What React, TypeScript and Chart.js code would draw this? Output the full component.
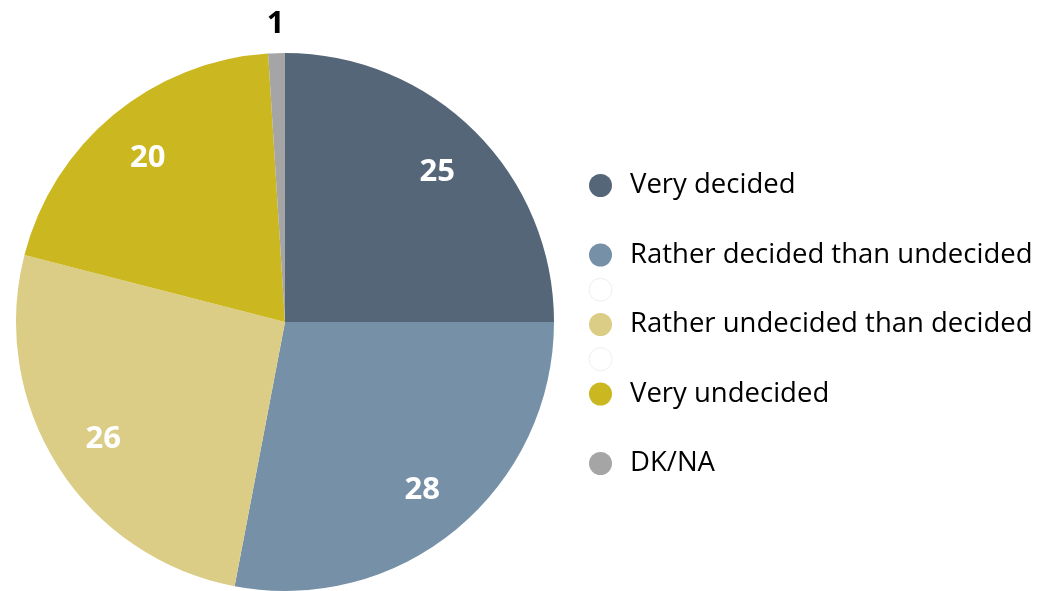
import React, { useEffect, useRef } from "react";
import { Chart, registerables } from "chart.js";

Chart.register(...registerables);

const categories = [
  "Very decided",
  "",
  "Rather decided than undecided",
  "",
  "Rather undecided than decided",
  "",
  "Very undecided",
  "",
  "DK/NA",
];
const values = [25, 0, 28, 0, 26, 0, 20, 0, 1];
const sliceColors = [
  "#546677",
  "rgba(0,0,0,0)",
  "#7691a7",
  "#ffffff",
  "#dbcd86",
  "#ffffff",
  "#cbb71f",
  "rgba(0,0,0,0)",
  "#a5a5a5",
];
const markerBorders = [
  "rgba(0,0,0,0)",
  "rgba(0,0,0,0)",
  "rgba(0,0,0,0)",
  "#eeeeee",
  "rgba(0,0,0,0)",
  "#eeeeee",
  "rgba(0,0,0,0)",
  "rgba(0,0,0,0)",
  "rgba(0,0,0,0)",
];

const FONT = "'Open Sans', 'Noto Sans', sans-serif";

const labelPlugin = {
  id: "sliceLabels",
  afterDatasetsDraw(chart: any) {
    const ctx = chart.ctx;
    const meta = chart.getDatasetMeta(0);
    const data = chart.data.datasets[0].data as number[];
    ctx.save();
    const size = 31;
    ctx.font = `bold ${size}px ${FONT}`;
    ctx.textAlign = "center";
    ctx.textBaseline = "alphabetic";
    meta.data.forEach((arc: any, i: number) => {
      const v = data[i];
      if (!v) return;
      const p = arc.getProps(["x", "y", "startAngle", "endAngle", "outerRadius"], true);
      const mid = (p.startAngle + p.endAngle) / 2;
      const small = v < 3;
      const r = small ? p.outerRadius + 31 : p.outerRadius * 0.8;
      const x = p.x + Math.cos(mid) * r;
      const y = p.y + Math.sin(mid) * r;
      ctx.fillStyle = small ? "#000000" : "#ffffff";
      ctx.fillText(String(v), x, y + size * 0.36);
    });
    ctx.restore();
  },
};

const legendPlugin = {
  id: "sideLegend",
  afterDraw(chart: any) {
    const ctx = chart.ctx;
    const labels = chart.data.labels as string[];
    const ds = chart.data.datasets[0];
    const left = chart.chartArea.right + 34;
    const firstBaseline = 193;
    const step = 34.75;
    ctx.save();
    ctx.font = `27.5px ${FONT}`;
    ctx.textBaseline = "alphabetic";
    ctx.textAlign = "left";
    labels.forEach((lab: string, i: number) => {
      const base = firstBaseline + i * step;
      const cy = base - 7.5;
      const cx = left + 11.5;
      ctx.beginPath();
      ctx.arc(cx, cy, 11.5, 0, Math.PI * 2);
      ctx.fillStyle = ds.backgroundColor[i];
      ctx.fill();
      ctx.lineWidth = 1;
      ctx.strokeStyle = markerBorders[i];
      ctx.stroke();
      if (lab) {
        ctx.fillStyle = "#000000";
        ctx.fillText(lab, left + 41, base);
      }
    });
    ctx.restore();
  },
};

export default function App() {
  const ref = useRef<HTMLCanvasElement | null>(null);
  useEffect(() => {
    if (!ref.current) return;
    const chart = new Chart(ref.current, {
      type: "pie",
      data: {
        labels: categories,
        datasets: [
          {
            data: values,
            backgroundColor: sliceColors,
            borderWidth: 0,
            hoverOffset: 0,
          },
        ],
      },
      options: {
        animation: false,
        responsive: false,
        events: [],
        layout: { padding: { left: 15, top: 53, right: 487, bottom: 0 } },
        plugins: {
          legend: { display: false },
          tooltip: { enabled: false },
        },
      },
      plugins: [labelPlugin, legendPlugin],
    });
    return () => chart.destroy();
  }, []);
  return (
    <div style={{ position: "fixed", left: 0, top: 0, width: 1042, height: 591, background: "#ffffff" }}>
      <canvas ref={ref} width={1042} height={591} style={{ width: 1042, height: 591, display: "block" }} />
    </div>
  );
}
